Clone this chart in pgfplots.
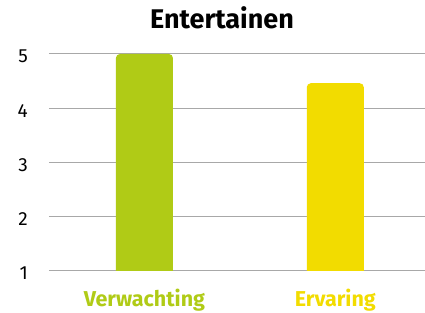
\documentclass[border=0pt]{standalone}
\usepackage{pgfplots}
\pgfplotsset{compat=1.18}
\usepackage{fontspec}
\setmainfont{Fira Sans}
\definecolor{ingreen}{HTML}{B0CB16}
\definecolor{ingyellow}{HTML}{F2DC00}
\definecolor{gridgray}{HTML}{A8A8A8}
\begin{document}
\begin{tikzpicture}[x=1bp,y=1bp]
\path[use as bounding box] (0,0) rectangle (425,313);
\begin{axis}[
  at={(49bp,42.5bp)}, anchor=south west,
  scale only axis, width=376bp, height=216.5bp,
  xmin=-0.5, xmax=1.47, ymin=1, ymax=5,
  axis line style={draw=none},
  ytick={1,2,3,4,5}, xtick={0,1},
  xticklabels={\textcolor{ingreen}{\bfseries Verwachting},\textcolor{ingyellow}{\bfseries Ervaring}},
  major tick length=0pt,
  ymajorgrids, grid style={gridgray, line width=1bp},
  /pgf/number format/assume math mode=true,
  yticklabel style={font=\fontsize{19bp}{22bp}\selectfont, anchor=east, inner sep=0pt, xshift=-21bp, yshift=-2.5bp},
  xticklabel style={font=\fontsize{21.5bp}{24bp}\selectfont, anchor=base, inner sep=0pt, yshift=-35.5bp},
  clip=true,
]
% bars: value 5 (Verwachting) and 4.46 (Ervaring), width 57bp, drawn from 0 and clipped at ymin=1
\addplot[fill=ingreen, draw=none, rounded corners=4bp] coordinates {(-0.1493,0) (-0.1493,5) (0.1493,5) (0.1493,0)} -- cycle;
\addplot[fill=ingyellow, draw=none, rounded corners=4bp] coordinates {(0.8507,0) (0.8507,4.46) (1.1493,4.46) (1.1493,0)} -- cycle;
\end{axis}
\node[anchor=base, font=\fontsize{27bp}{30bp}\selectfont\bfseries, inner sep=0pt] at (222,285) {Entertainen};
\end{tikzpicture}
\end{document}
